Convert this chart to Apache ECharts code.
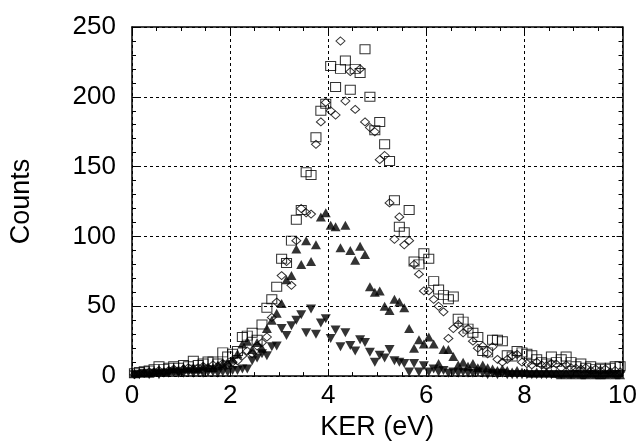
<!DOCTYPE html>
<html>
<head>
<meta charset="utf-8">
<script src="https://cdn.jsdelivr.net/npm/echarts@6/dist/echarts.min.js"></script>
<style>
html,body{margin:0;padding:0;background:#fff;}
#chart{width:640px;height:446px;}
</style>
</head>
<body>
<div id="chart"></div>
<script>
// Bin centres (eV)
const kerBins = [];
for (let i = 0; i < 100; i++) kerBins.push(+(0.05 + 0.1 * i).toFixed(2));

// Open squares
const squares = [2,3,3.5,4,5,7,5,6,7,6, 8,7,11,8,9,10.5,10.5,9,17,14,
  16,18,28,29,31,26,37,49,55,64, 84,81,97,112,119,146,144,171,190,195,
  222,207,220,226,205,220,217,234,200,176, 182,166,154,126,107,103,119,82,80,88,
  84,68,62,58,55,57,41,39,34,31, 28,18,17,26,26,25,15,14,18,17,
  16,15,12,10,9,14,10,12,14,10, 7,9,6,7,5,6,5,6,7,7];
// Open diamonds
const diamonds = [1,2,2,3,3,4,3,4,5,4, 5,6,5,6,7,6,8,7,9,8,
  10,11,14.5,18,16,21.5,24,28,42,53, 72,82,65,97,120,117,116,166,182,196,
  190,187,240,197,218,191,220,182,178,175, 155,158,124,98,114,94,97,80,73,61,
  61,55,50,46,27,34,37,31,34,25, 20,21.5,16,21,12,10,12,14.5,15.6,10,
  9,8,10,8,7.5,9,8.6,6,8,6, 5.6,5,6,4,5,4,5,3,4,3];
// Filled up-triangles
const upTri = [2,2,3,2,3,4,3,4,5,4, 6,5,6,5,7,6,6,8,9,10,
  12,16,23,25,19,24,20,34,40,45, 52,69,72,91,80,97,82,94,114,117,
  108,107,92,108,90,83,93,87,64,60, 61,50,47,55,53,49,34,20,26,23,
  28,23,9,19,19,14,8,10,7,9, 6,8,6,5,4,5,4,3,4,3,
  3,2,3,2,3,2,2,1,2,1, 2,1,1,2,1,1,1,2,1,1];
// Filled down-triangles
const downTri = [1,1,2,1,2,1,2,2,3,2, 2,3,2,3,2,3,3,2,3,3,
  4,4,5,5,11,13,16,14.5,21,21.5, 34,29,36,40,44,31,48,30,38,41,
  27,33,21,31,22,18,26,24,17,10, 15,13,19,11,10,9,3,9,3,7.5,
  3,5,3,4,2,3,2,3,2,2, 3,2,1,2,1,2,1,1,1,1,
  1,1,1,1,1,1,1,1,1,1, 1,1,1,1,1,1,1,1,1,1];

const xTicks = [0, 2, 4, 6, 8, 10];
const yTicks = [0, 50, 100, 150, 200, 250];

function pairs(vals) { return kerBins.map((x, i) => [x, vals[i]]); }

const FONT = 'Liberation Sans, Arial, Helvetica, sans-serif';
const axisLine = { show: true, onZero: false, lineStyle: { color: '#000', width: 1.5 } };
const axisTick = { show: true, inside: true, length: 6, lineStyle: { color: '#000', width: 1 } };
const gridDash = { show: true, lineStyle: { color: '#000', type: [3, 3], width: 1 } };

const chart = echarts.init(document.getElementById('chart'), null, { renderer: 'canvas' });
chart.setOption({
  backgroundColor: '#fff',
  animation: false,
  grid: { left: 131, right: 17, top: 27, bottom: 62, containLabel: false },
  xAxis: [
    {
      type: 'value', position: 'bottom',
      min: xTicks[0], max: xTicks[xTicks.length - 1], interval: 2,
      axisLine: axisLine, axisTick: axisTick,
      minorTick: { show: true, splitNumber: 4, length: 4, lineStyle: { color: '#000' } },
      name: 'KER (eV)', nameLocation: 'middle', nameGap: 31,
      nameTextStyle: { fontFamily: FONT, fontSize: 27, color: '#000' },
      axisLabel: { fontFamily: FONT, fontSize: 26, color: '#000', margin: 7 },
      splitLine: gridDash
    },
    {
      type: 'value', position: 'top',
      min: xTicks[0], max: xTicks[xTicks.length - 1], interval: 2,
      axisLine: axisLine, axisTick: axisTick,
      minorTick: { show: true, splitNumber: 4, length: 4, lineStyle: { color: '#000' } },
      axisLabel: { show: false }, splitLine: { show: false }
    }
  ],
  yAxis: [
    {
      type: 'value', position: 'left',
      min: yTicks[0], max: yTicks[yTicks.length - 1], interval: 50,
      axisLine: axisLine, axisTick: axisTick,
      minorTick: { show: true, splitNumber: 5, length: 4, lineStyle: { color: '#000' } },
      name: 'Counts', nameLocation: 'middle', nameGap: 97, nameRotate: 90,
      nameTextStyle: { fontFamily: FONT, fontSize: 27, color: '#000' },
      axisLabel: { fontFamily: FONT, fontSize: 26, color: '#000', margin: 16 },
      splitLine: gridDash
    },
    {
      type: 'value', position: 'right',
      min: yTicks[0], max: yTicks[yTicks.length - 1], interval: 50,
      axisLine: axisLine, axisTick: axisTick,
      minorTick: { show: true, splitNumber: 5, length: 4, lineStyle: { color: '#000' } },
      axisLabel: { show: false }, splitLine: { show: false }
    }
  ],
  series: [
    {
      name: 'squares', type: 'scatter', data: pairs(squares),
      symbol: 'rect', symbolSize: [10, 9],
      itemStyle: { color: 'rgba(255,255,255,0)', borderColor: '#000', borderWidth: 1 }
    },
    {
      name: 'diamonds', type: 'scatter', data: pairs(diamonds),
      symbol: 'diamond', symbolSize: [9, 8],
      itemStyle: { color: 'rgba(255,255,255,0)', borderColor: '#000', borderWidth: 1 }
    },
    {
      name: 'up', type: 'scatter', data: pairs(upTri),
      symbol: 'triangle', symbolSize: [10, 9],
      itemStyle: { color: '#000' }
    },
    {
      name: 'down', type: 'scatter', data: pairs(downTri),
      symbol: 'triangle', symbolRotate: 180, symbolSize: [10, 9],
      itemStyle: { color: '#000' }
    }
  ]
});
</script>
</body>
</html>
